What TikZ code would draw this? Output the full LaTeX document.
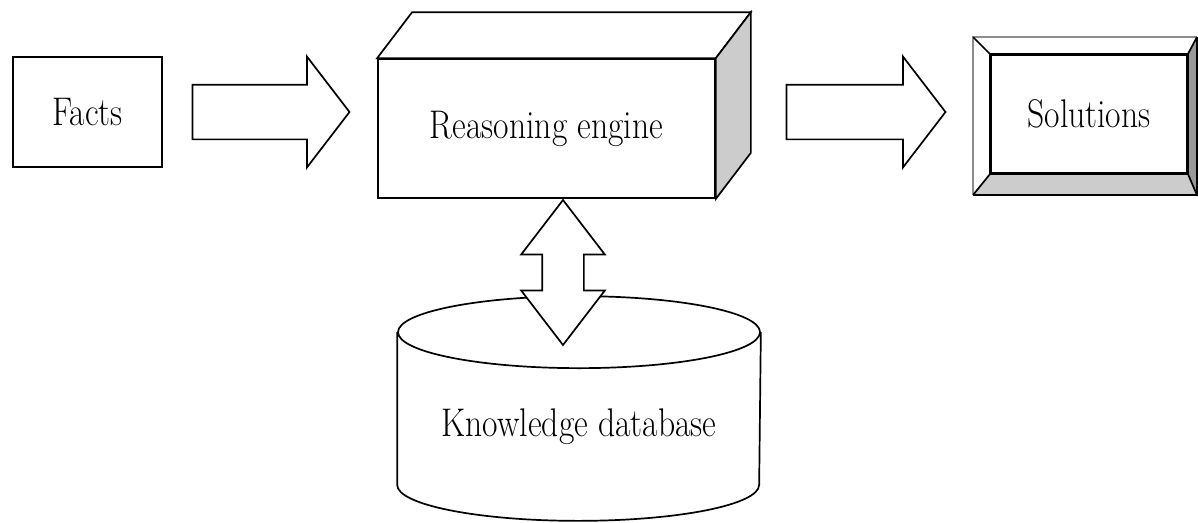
\documentclass[tikz,border=0pt]{standalone}
\usepackage{graphicx}
\usetikzlibrary{shapes.arrows,calc}
\newcommand{\squeeze}[1]{\scalebox{0.84}[1]{#1}}
\tikzset{
  txt/.style={font=\fontsize{40}{44}\selectfont},
  bigarrow/.style={single arrow, draw, fill=white, inner sep=26.5pt,
    minimum width=109pt, single arrow head extend=28pt, single arrow tip angle=105},
  botharrow/.style={double arrow, draw, fill=white, inner sep=20pt, rotate=90,
    minimum width=82pt, double arrow head extend=21pt, double arrow tip angle=75}
}
\begin{document}
\begin{tikzpicture}[x=1pt,y=-1pt,line width=1.7pt]
  \useasboundingbox (0,0) rectangle (1198,522);
  % input and engine
  \node[draw, txt, minimum width=149pt, minimum height=110pt] (facts) at (87.5,112) {\squeeze{Facts}};
  \node[draw, txt, minimum width=337pt, minimum height=139pt] (engine) at (546.5,128.5) {\squeeze{Reasoning engine}};
  \draw[fill=white] (engine.north west) -- ++(35,-46) -- ($(engine.north east)+(35,-46)$) -- (engine.north east) -- cycle;
  \draw[fill=black!20] (engine.north east) -- ++(35,-46) -- ($(engine.south east)+(35,-46)$) -- (engine.south east) -- cycle;
  \node[bigarrow, minimum height=157pt] (toengine) at (260.5,112) {};
  % output
  \node[draw, txt, minimum width=196pt, minimum height=118pt] (sol) at (1089,114) {\squeeze{Solutions}};
  \coordinate (o1) at ($(sol.north west)+(-17,-17)$);
  \coordinate (o2) at ($(sol.north east)+(9,-17)$);
  \coordinate (o3) at ($(sol.south east)+(9,21)$);
  \coordinate (o4) at ($(sol.south west)+(-17,21)$);
  \fill[black!40] (sol.north east) -- (o2) -- (o3) -- (sol.south east) -- cycle;
  \fill[black!20] (sol.south west) -- (sol.south east) -- (o3) -- (o4) -- cycle;
  \draw[black!45] (o4) -- (o1) -- (o2);
  \draw (o2) -- (o3) -- (o4);
  \draw (o1) -- (sol.north west) (o2) -- (sol.north east) (o3) -- (sol.south east) (o4) -- (sol.south west);
  \draw (sol.north west) rectangle (sol.south east);
  \node[bigarrow, minimum height=159pt] (tosol) at (855.5,112) {};
  % knowledge base
  \node[txt, minimum width=362pt, minimum height=187pt] (kb) at (579,426.5) {\squeeze{Knowledge database}};
  \draw (kb.north west) -- ([yshift=36pt]kb.south west)
    arc[start angle=180, end angle=360, x radius=181pt, y radius=36pt] -- (kb.north east);
  \draw (kb.north) ellipse [x radius=181pt, y radius=36pt];
  \node[botharrow, minimum height=145pt] (link) at (563,272.5) {};
\end{tikzpicture}
\end{document}
